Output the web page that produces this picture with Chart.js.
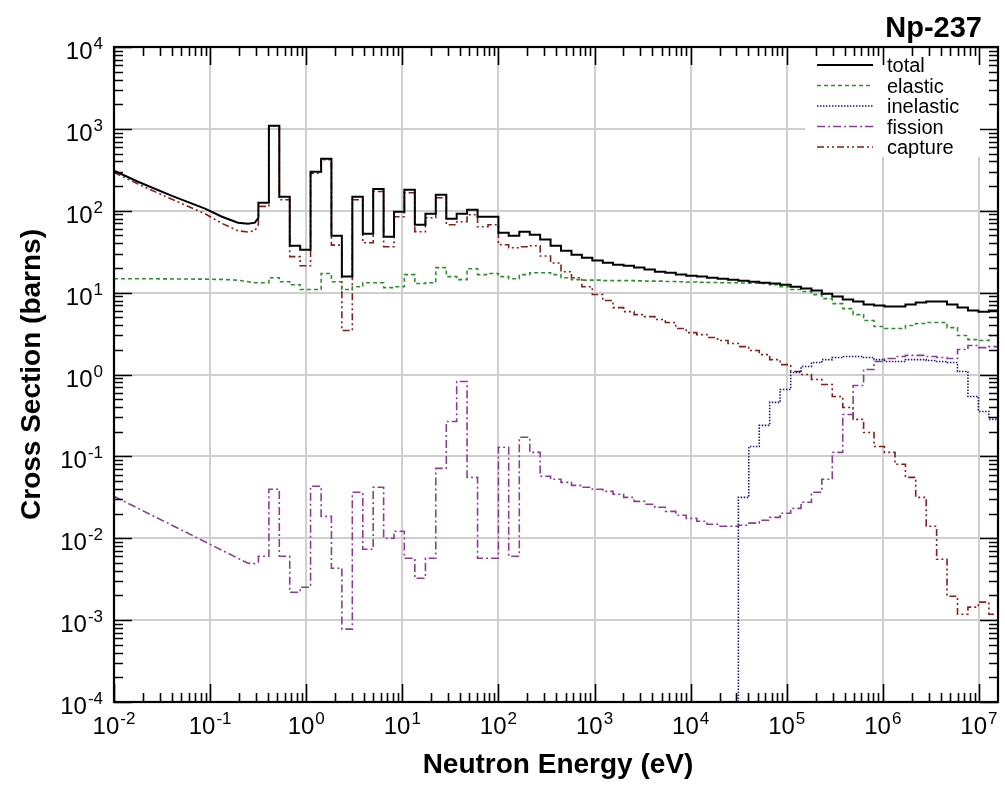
<!DOCTYPE html>
<html>
<head>
<meta charset="utf-8">
<title>Np-237</title>
<script src="https://cdn.jsdelivr.net/npm/chart.js@4.4.1/dist/chart.umd.min.js"></script>
<style>
  html, body { margin: 0; padding: 0; background: #ffffff; }
  canvas { display: block; }
</style>
</head>
<body>
<canvas id="xsChart" width="1005" height="789"></canvas>
<script>
var FONT = '"Liberation Sans", Arial, Helvetica, sans-serif';

var seriesNames = ['total', 'elastic', 'inelastic', 'fission', 'capture'];

// smooth (pointwise) part below the first group, eV
var lowEnergy  = [0.01, 0.0178, 0.0401, 0.0885, 0.133, 0.195, 0.248, 0.293, 0.318];
var totalLow   = [308, 226, 152, 106, 84.5, 71.5, 69.4, 71.5, 82.2];
var elasticLow = [14.8, 14.8, 14.7, 14.6, 14.5, 14.2, 13.6, 13.2, 13.2];
var fissionLow = [0.0325, 0.0232, 0.0144, 0.00906, 0.00713, 0.0057, 0.00495, 0.0049, 0.0051];
var captureLow = [294, 212, 138, 92, 70, 57, 55, 57, 68];

// group edges, eV (lower edge of each group, last value closes the last group)
var groupEdges = [
  0.318, 0.409, 0.525, 0.674, 0.865, 1.11, 1.43, 1.83, 2.35, 3.02,
  3.88, 4.98, 6.39, 8.21, 10.5, 13.5, 17.4, 22.3, 28.7, 36.8,
  47.2, 60.7, 77.9, 100, 128, 165, 212, 272, 349, 448,
  576, 739, 949, 1220, 1560, 2010, 2580, 3310, 4250, 5460,
  7010, 9000, 11600, 14800, 19100, 24500, 31400, 40300, 51800, 66500,
  85400, 110000, 141000, 181000, 232000, 298000, 383000, 491000, 631000, 810000,
  1.04e6, 1.34e6, 1.72e6, 2.20e6, 2.83e6, 3.63e6, 4.66e6, 5.99e6, 7.69e6, 9.87e6,
  1.27e7, 1.63e7
];

// group cross sections, barns
var total = [
  125, 1090, 148, 37.4, 33.4, 299, 431, 49.5, 15.7, 148,
  52.5, 185, 48.2, 97.2, 180, 67.5, 91.9, 157, 79.8, 91.9,
  103, 84.6, 84.6, 54.0, 49.6, 55.4, 50.9, 44.5, 37.4, 32.5,
  29.0, 26.7, 24.6, 23.2, 21.9, 21.3, 20.2, 19.1, 18.0, 17.5,
  16.6, 16.1, 15.7, 15.2, 14.8, 14.4, 14.0, 13.6, 13.2, 12.9,
  12.5, 11.8, 11.2, 10.6, 9.72, 8.94, 8.22, 7.77, 7.14, 6.94,
  6.75, 6.75, 7.14, 7.55, 7.77, 7.77, 7.14, 6.56, 6.03, 5.86,
  6.03
];
var elastic = [
  13.2, 15.2, 13.6, 12.5, 10.9, 10.9, 17.1, 13.6, 10.9, 11.8,
  13.2, 13.2, 11.5, 11.8, 16.6, 12.9, 13.2, 20.2, 15.7, 14.4,
  19.6, 16.6, 17.1, 15.7, 14.8, 16.6, 17.5, 17.5, 16.6, 15.2,
  14.4, 14.2, 14.2, 14.0, 14.0, 14.0, 13.9, 13.8, 13.8, 13.7,
  13.6, 13.5, 13.4, 13.3, 13.2, 13.2, 13.1, 13.0, 12.9, 12.5,
  11.8, 10.9, 10.3, 9.46, 8.45, 7.34, 6.38, 5.39, 4.56, 3.85,
  3.64, 3.64, 3.96, 4.19, 4.31, 4.31, 3.74, 2.99, 2.67, 2.60,
  2.99
];
var inelastic = [
  0, 0, 0, 0, 0, 0, 0, 0, 0, 0,
  0, 0, 0, 0, 0, 0, 0, 0, 0, 0,
  0, 0, 0, 0, 0, 0, 0, 0, 0, 0,
  0, 0, 0, 0, 0, 0, 0, 0, 0, 0,
  0, 0, 0, 0, 0, 0, 0.0316, 0.132, 0.239, 0.456,
  0.656, 1.06, 1.25, 1.40, 1.52, 1.61, 1.66, 1.66, 1.61, 1.52,
  1.44, 1.44, 1.52, 1.52, 1.48, 1.44, 1.40, 1.09, 0.539, 0.354,
  0.283
];
var fission = [
  0.00603, 0.0396, 0.00603, 0.00219, 0.00252, 0.0431, 0.0185, 0.00431, 0.000776, 0.0364,
  0.00734, 0.0419, 0.0100, 0.0122, 0.00570, 0.00325, 0.00570, 0.0714, 0.267, 0.822,
  0.0554, 0.00570, 0.00570, 0.129, 0.00603, 0.171, 0.112, 0.0571, 0.0525, 0.0482,
  0.0443, 0.0419, 0.0396, 0.0374, 0.0344, 0.0316, 0.0282, 0.0260, 0.0239, 0.0213,
  0.0191, 0.0175, 0.0161, 0.0148, 0.0140, 0.0140, 0.0144, 0.0153, 0.0166, 0.0180,
  0.0202, 0.0232, 0.0275, 0.0364, 0.0525, 0.112, 0.325, 0.735, 1.15, 1.44,
  1.57, 1.66, 1.71, 1.71, 1.66, 1.61, 1.57, 2.02, 2.26, 2.13,
  2.19
];
var capture = [
  113, 1075, 136, 27.5, 21.3, 287, 419, 38.0, 3.44, 136,
  40.7, 172, 36.4, 84.6, 166, 55.4, 82.2, 144, 67.5, 73.4,
  89.3, 63.8, 67.5, 38.5, 35.4, 36.4, 37.4, 28.0, 23.0, 18.0,
  15.2, 11.8, 9.5, 8.0, 6.56, 5.86, 5.39, 5.09, 4.69, 4.31,
  3.64, 3.25, 3.07, 2.83, 2.60, 2.39, 2.19, 1.96, 1.75, 1.52,
  1.32, 1.09, 1.00, 0.869, 0.755, 0.539, 0.396, 0.283, 0.196, 0.132,
  0.112, 0.080, 0.0554, 0.0316, 0.0140, 0.00555, 0.00196, 0.00118, 0.00144, 0.00166,
  0.00118
];

// tick labels: powers of ten
var xTickExps = [-2, -1, 0, 1, 2, 3, 4, 5, 6, 7];
var yTickExps = [-4, -3, -2, -1, 0, 1, 2, 3, 4];

var X_MIN = 0.01, X_MAX = 1.58e7, Y_MIN = 1e-4, Y_MAX = 1e4;

var styles = {
  total:     { color: '#000000', width: 2,   dash: [] },
  elastic:   { color: '#2f8f2f', width: 1.6, dash: [4, 3] },
  inelastic: { color: '#1c1c7a', width: 1.6, dash: [1.5, 1.5] },
  fission:   { color: '#8a3f93', width: 1.6, dash: [8, 3, 2, 3] },
  capture:   { color: '#8a1c1c', width: 1.6, dash: [7, 3, 2, 3, 2, 3] }
};

// histogram points: smooth part first, then two points per group
function buildSteps(lowV, vals) {
  var pts = [];
  if (lowV) {
    for (var i = 0; i < lowEnergy.length; i++) pts.push({ x: lowEnergy[i], y: lowV[i] });
  }
  for (var k = 0; k < vals.length; k++) {
    if (!vals[k]) continue;
    var opens = (k === 0) ? !lowV : !vals[k - 1];
    if (opens) pts.push({ x: groupEdges[k], y: Y_MIN });
    pts.push({ x: groupEdges[k], y: vals[k] });
    pts.push({ x: groupEdges[k + 1], y: vals[k] });
  }
  return pts;
}

function makeSet(name, low, vals) {
  var s = styles[name];
  return {
    label: name,
    data: buildSteps(low, vals),
    borderColor: s.color,
    borderWidth: s.width,
    borderDash: s.dash,
    pointRadius: 0,
    fill: false,
    tension: 0
  };
}

var datasets = [
  makeSet('total', totalLow, total),
  makeSet('elastic', elasticLow, elastic),
  makeSet('inelastic', null, inelastic),
  makeSet('fission', fissionLow, fission),
  makeSet('capture', captureLow, capture)
];

function drawPow(ctx, exp, x, baseY, align) {
  var base = '10', sup = String(exp);
  ctx.font = '24px ' + FONT;
  var wb = ctx.measureText(base).width;
  ctx.font = '17px ' + FONT;
  var ws = ctx.measureText(sup).width;
  var w = wb + 1 + ws;
  var x0 = align === 'center' ? x - w / 2 : x - w;
  ctx.textAlign = 'left';
  ctx.textBaseline = 'alphabetic';
  ctx.font = '24px ' + FONT;
  ctx.fillText(base, x0, baseY);
  ctx.font = '17px ' + FONT;
  ctx.fillText(sup, x0 + wb + 1, baseY - 10);
}

var decorations = {
  id: 'decorations',
  beforeDatasetsDraw: function(chart) {
    var a = chart.chartArea, ctx = chart.ctx;
    ctx.save();
    ctx.fillStyle = '#ffffff';
    ctx.fillRect(a.right - 193, a.top, 193, 110);
    ctx.restore();
  },
  afterDraw: function(chart) {
    var ctx = chart.ctx, a = chart.chartArea;
    var xs = chart.scales.x, ys = chart.scales.y;
    ctx.save();

    // minor / major ticks on all four sides, pointing inward
    ctx.strokeStyle = '#000';
    ctx.lineWidth = 1.6;
    ctx.beginPath();
    for (var e = -5; e <= 8; e++) {
      for (var m = 1; m <= 9; m++) {
        var v = m * Math.pow(10, e);
        var len = m === 1 ? 18 : 9;
        if (v >= X_MIN * 0.999 && v <= X_MAX * 1.001) {
          var px = Math.round(xs.getPixelForValue(v)) + 0.5;
          ctx.moveTo(px, a.bottom); ctx.lineTo(px, a.bottom - len);
          ctx.moveTo(px, a.top); ctx.lineTo(px, a.top + len);
        }
        if (v >= Y_MIN * 0.999 && v <= Y_MAX * 1.001) {
          var py = Math.round(ys.getPixelForValue(v)) + 0.5;
          ctx.moveTo(a.left, py); ctx.lineTo(a.left + len, py);
          ctx.moveTo(a.right, py); ctx.lineTo(a.right - len, py);
        }
      }
    }
    ctx.stroke();

    // frame
    ctx.lineWidth = 2.2;
    ctx.strokeRect(a.left, a.top, a.right - a.left, a.bottom - a.top);

    // tick labels
    ctx.fillStyle = '#000';
    xTickExps.forEach(function(ex) {
      drawPow(ctx, ex, xs.getPixelForValue(Math.pow(10, ex)), 734, 'center');
    });
    yTickExps.forEach(function(ex) {
      drawPow(ctx, ex, 103, ys.getPixelForValue(Math.pow(10, ex)) + 12, 'right');
    });

    // axis titles and chart title
    ctx.font = 'bold 28px ' + FONT;
    ctx.textAlign = 'center';
    ctx.textBaseline = 'alphabetic';
    ctx.fillText('Neutron Energy (eV)', 558, 773);
    ctx.save();
    ctx.translate(40, (a.top + a.bottom) / 2);
    ctx.rotate(-Math.PI / 2);
    ctx.fillText('Cross Section (barns)', 0, 0);
    ctx.restore();
    ctx.font = 'bold 29px ' + FONT;
    ctx.textAlign = 'right';
    ctx.fillText('Np-237', 982, 37);

    // legend
    ctx.font = '20px ' + FONT;
    ctx.textAlign = 'left';
    chart.data.datasets.forEach(function(ds, i) {
      var cy = 65 + i * 20.5;
      ctx.save();
      ctx.strokeStyle = ds.borderColor;
      ctx.lineWidth = ds.borderWidth;
      ctx.setLineDash(ds.borderDash);
      ctx.beginPath();
      ctx.moveTo(817, cy);
      ctx.lineTo(873, cy);
      ctx.stroke();
      ctx.restore();
      ctx.fillStyle = '#000';
      ctx.fillText(seriesNames[i], 887, cy + 7);
    });
    ctx.restore();
  }
};

new Chart(document.getElementById('xsChart').getContext('2d'), {
  type: 'line',
  data: { datasets: datasets },
  options: {
    responsive: false,
    animation: false,
    events: [],
    layout: { padding: { left: 114, right: 7, top: 47, bottom: 87 } },
    plugins: {
      legend: { display: false },
      tooltip: { enabled: false },
      title: { display: false }
    },
    scales: {
      x: {
        type: 'logarithmic',
        min: X_MIN,
        max: X_MAX,
        afterBuildTicks: function(scale) {
          scale.ticks = xTickExps.map(function(ex) { return { value: Math.pow(10, ex) }; });
        },
        afterFit: function(scale) { scale.height = 0; },
        ticks: { display: false },
        grid: { color: '#cfcfcf', lineWidth: 2, drawTicks: false },
        border: { display: false }
      },
      y: {
        type: 'logarithmic',
        min: Y_MIN,
        max: Y_MAX,
        afterBuildTicks: function(scale) {
          scale.ticks = yTickExps.map(function(ex) { return { value: Math.pow(10, ex) }; });
        },
        afterFit: function(scale) { scale.width = 0; },
        ticks: { display: false },
        grid: { color: '#cfcfcf', lineWidth: 2, drawTicks: false },
        border: { display: false }
      }
    }
  },
  plugins: [decorations]
});
</script>
</body>
</html>
